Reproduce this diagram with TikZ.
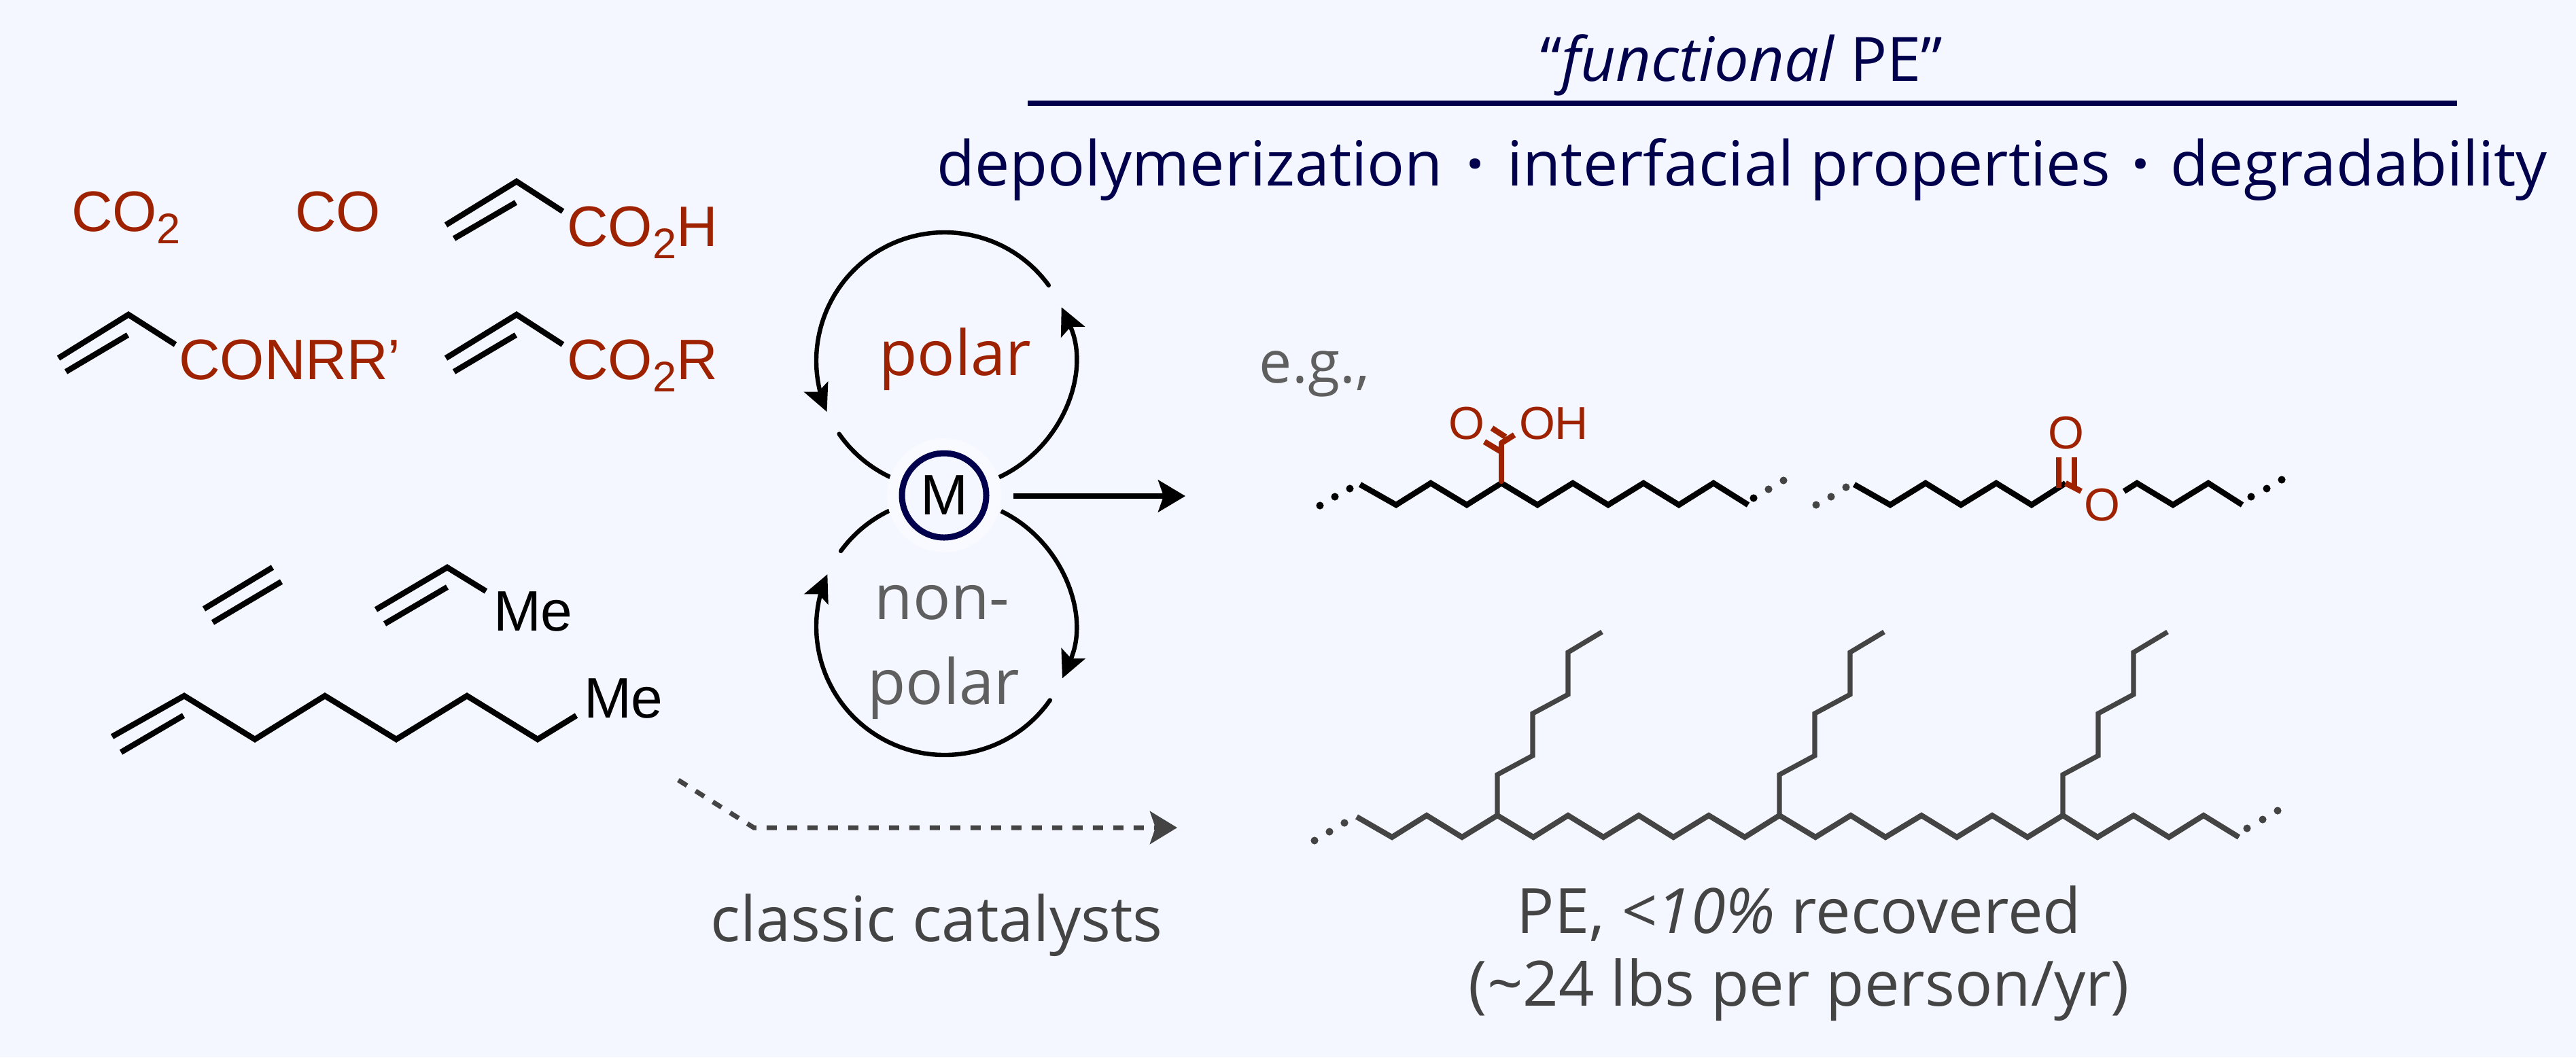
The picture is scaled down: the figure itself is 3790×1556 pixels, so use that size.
\documentclass[tikz,border=0pt]{standalone}
\usepackage{fontspec}
\usetikzlibrary{arrows.meta,calc}
\setmainfont{Open Sans}
\newfontfamily\arialf{Liberation Sans}
\definecolor{bgc}{HTML}{F4F7FF}
\definecolor{redc}{HTML}{9E2200}
\definecolor{navyc}{HTML}{00004D}
\definecolor{greyc}{HTML}{444444}
\definecolor{midgrey}{HTML}{5F5F5F}
\definecolor{haloc}{HTML}{F9FAFF}
\newcommand{\subtwo}{\raisebox{-4.5pt}{\fontsize{15.75}{18}\selectfont 2}}
\tikzset{
  chemtext/.style={font=\arialf\fontsize{21}{25}\selectfont,inner sep=0,outer sep=0,anchor=base west},
  redtext/.style={chemtext,text=redc},
  smallred/.style={font=\arialf\fontsize{17}{20}\selectfont,inner sep=0,outer sep=0,text=redc},
  label/.style={inner sep=0,outer sep=0,anchor=base,align=center},
  bond/.style={line width=2.1pt,line join=miter,black},
  redbond/.style={line width=2.1pt,redc},
  gbond/.style={line width=2pt,line join=miter,greyc},
  cyc/.style={line width=1.6pt,black,line cap=round},
  cyctip/.style={line width=1.6pt,black,-{Stealth[length=10pt,width=9.5pt,inset=2pt]}},
}
\begin{document}
\begin{tikzpicture}[x=0.25pt,y=-0.25pt]
\useasboundingbox (0,0) rectangle (3790,1556);
\fill[bgc] (0,0) rectangle (3790,1556);

% header
\node[label,text=navyc,font=\fontsize{22.5}{26}\selectfont] (hdr) at (2562,119) {“{\itshape functional} PE”};
\coordinate (ruleL) at (1512,152);
\coordinate (ruleR) at (3615,152);
\draw[navyc,line width=1.9pt] (ruleL) -- (ruleR);
\node[label,text=navyc,font=\fontsize{22.85}{27}\selectfont] (props) at (2563,273) {depolymerization\hspace{8.6pt}\textbf{·}\hspace{8.6pt}interfacial properties\hspace{7.8pt}\textbf{·}\hspace{7.8pt}degradability};

% polar monomers
\node[redtext] (co2) at (105,340) {CO\subtwo};
\node[redtext] (co) at (434,340) {CO};
\node[redtext] (acid) at (834,362) {CO\subtwo H};
\node[redtext] (amide) at (263,558) {CONRR’};
\node[redtext] (ester) at (834,558) {CO\subtwo R};
\draw[bond] (656,331) -- (760,267) -- (828,311);
\draw[bond] (668,351) -- (759,298);
\draw[bond] (86,527) -- (189,463) -- (258,507);
\draw[bond] (97,547) -- (188,493);
\draw[bond] (656,527) -- (760,463) -- (828,507);
\draw[bond] (668,547) -- (759,493);

% nonpolar monomers
\draw[bond] (300,896) -- (401,835);
\draw[bond] (313,916) -- (414,856);
\draw[bond] (553,897) -- (658,835) -- (715,870);
\draw[bond] (566,918) -- (658,864);
\node[chemtext] (me1) at (726,928) {Me};
\draw[bond] (165,1084) -- (271,1024) -- (375,1088) -- (478,1024) -- (583,1088) -- (687,1024) -- (791,1088) -- (848,1053);
\draw[bond] (178,1107) -- (270,1053);
\node[chemtext] (me2) at (859,1056) {Me};

% catalytic cycles
\coordinate (cp) at (1390,531);
\coordinate (cn) at (1390,922);
\draw[cyc] ($(cp)+(36:47.25pt)$) arc[start angle=36,end angle=195,radius=47.25pt];
\draw[cyctip] ($(cp)+(195:47.25pt)$) arc[start angle=195,end angle=203.4,radius=47.25pt];
\draw[cyc] ($(cp)+(214.7:47.25pt)$) arc[start angle=214.7,end angle=245.3,radius=47.25pt];
\draw[cyctip] ($(cp)+(-65:47.25pt)$) arc[start angle=-65,end angle=24.7,radius=47.25pt];
\draw[cyc] ($(cn)+(-35:47.25pt)$) arc[start angle=-35,end angle=-195,radius=47.25pt];
\draw[cyctip] ($(cn)+(-195:47.25pt)$) arc[start angle=-195,end angle=-204,radius=47.25pt];
\draw[cyc] ($(cn)+(144:47.25pt)$) arc[start angle=144,end angle=116,radius=47.25pt];
\draw[cyctip] ($(cn)+(64:47.25pt)$) arc[start angle=64,end angle=-23.8,radius=47.25pt];
\fill[haloc] (1389,729) circle[radius=21pt];
\node[circle,draw=navyc,line width=2.25pt,fill=bgc,minimum size=31pt,inner sep=0,outer sep=0,font=\arialf\fontsize{21}{25}\selectfont] (M) at (1389,729) {M};
\node[label,text=redc,font=\fontsize{23}{27}\selectfont] (polar) at (1405,552) {polar};
\node[label,text=midgrey,font=\fontsize{23}{27}\selectfont] (non) at (1386,911) {non-};
\node[label,text=midgrey,font=\fontsize{23}{27}\selectfont] (npolar) at (1388,1036) {polar};
\coordinate (Mout) at (1491,730);
\coordinate (prod) at (1744,730);
\draw[line width=1.8pt,black,-{Stealth[length=10pt,width=11.75pt,inset=2pt]}] (Mout) -- (prod);

% classic route
\coordinate (cl0) at (998,1148);
\coordinate (cl1) at (1109,1218);
\coordinate (cl2) at (1732,1218);
\draw[greyc,line width=1.75pt,dash pattern=on 3.75pt off 3.75pt,-{Stealth[length=10pt,width=12pt,inset=2pt]}] (cl0) -- (cl1) -- (cl2);
\node[label,text=greyc,font=\fontsize{23}{27}\selectfont] (classic) at (1378,1385) {classic catalysts};

% examples
\node[label,text=midgrey,font=\fontsize{21.5}{25}\selectfont] (eg) at (1934,563) {e.g.,};

% functional chain 1
\draw[bond] (2001,713) -- (2054,743) -- (2105,711) -- (2158,743) -- (2209,711) -- (2262,743) -- (2314,711) -- (2366,743) -- (2418,711) -- (2470,743) -- (2521,711) -- (2572,743);
\foreach \px/\py in {1942/744,1964/731,1986/719,2580/733} \fill[black] (\px,\py) circle[radius=1.4pt];
\foreach \px/\py in {2602/720,2624/707,2672/743,2694/731,2716/717} \fill[greyc] (\px,\py) circle[radius=1.4pt];
\draw[redbond,line cap=round] (2209,708) -- (2209,652);
\draw[redbond] (2184,650) -- (2209,665);
\draw[redbond] (2195,630) -- (2215,643);
\draw[redbond] (2209,652) -- (2228,640);
\node[smallred,anchor=base west] (o1) at (2131,646) {O};
\node[smallred,anchor=base west] (oh) at (2235,646) {OH};

% functional chain 2
\draw[bond] (2728,713) -- (2781,743) -- (2833,711) -- (2885,743) -- (2937,711) -- (2989,743) -- (3039,711);
\draw[redbond] (3039,711) -- (3062,723);
\draw[bond] (3125,723) -- (3144,711) -- (3197,743) -- (3249,711) -- (3299,743);
\draw[redbond] (3029,673) -- (3029,718);
\draw[redbond] (3052,673) -- (3052,718);
\node[smallred,anchor=base] (o2) at (3040,660) {O};
\node[smallred,anchor=base] (o3) at (3093,766) {O};
\foreach \px/\py in {3312/731,3335/719,3357/706} \fill[black] (\px,\py) circle[radius=1.4pt];

% PE
\draw[gbond] (1996,1202) -- (2048,1232) -- (2099,1200) -- (2151,1232) -- (2203,1200) -- (2256,1232) -- (2307,1200) -- (2359,1232) -- (2411,1200) -- (2462,1232) -- (2514,1200) -- (2567,1232) -- (2618,1200) -- (2671,1232) -- (2723,1200) -- (2774,1232) -- (2827,1200) -- (2879,1232) -- (2931,1200) -- (2983,1232) -- (3035,1200) -- (3086,1232) -- (3139,1200) -- (3191,1232) -- (3242,1200) -- (3294,1232);
\foreach \dx in {0,415,832} {
  \draw[gbond,line width=1.8pt] (2203+\dx,1200) -- (2203+\dx,1140) -- (2255+\dx,1112) -- (2255+\dx,1050) -- (2307+\dx,1022) -- (2307+\dx,960) -- (2357+\dx,930);
}
\foreach \px/\py in {1934/1237,1956/1224,1978/1211,3306/1219,3329/1206,3351/1193} \fill[greyc] (\px,\py) circle[radius=1.4pt];
\node[label,text=greyc,font=\fontsize{23}{27}\selectfont] (pe1) at (2647,1373) {PE, {\itshape <10\%} recovered};
\node[label,text=greyc,font=\fontsize{23}{27}\selectfont] (pe2) at (2647,1480) {(\textasciitilde24 lbs per person/yr)};
\end{tikzpicture}
\end{document}
